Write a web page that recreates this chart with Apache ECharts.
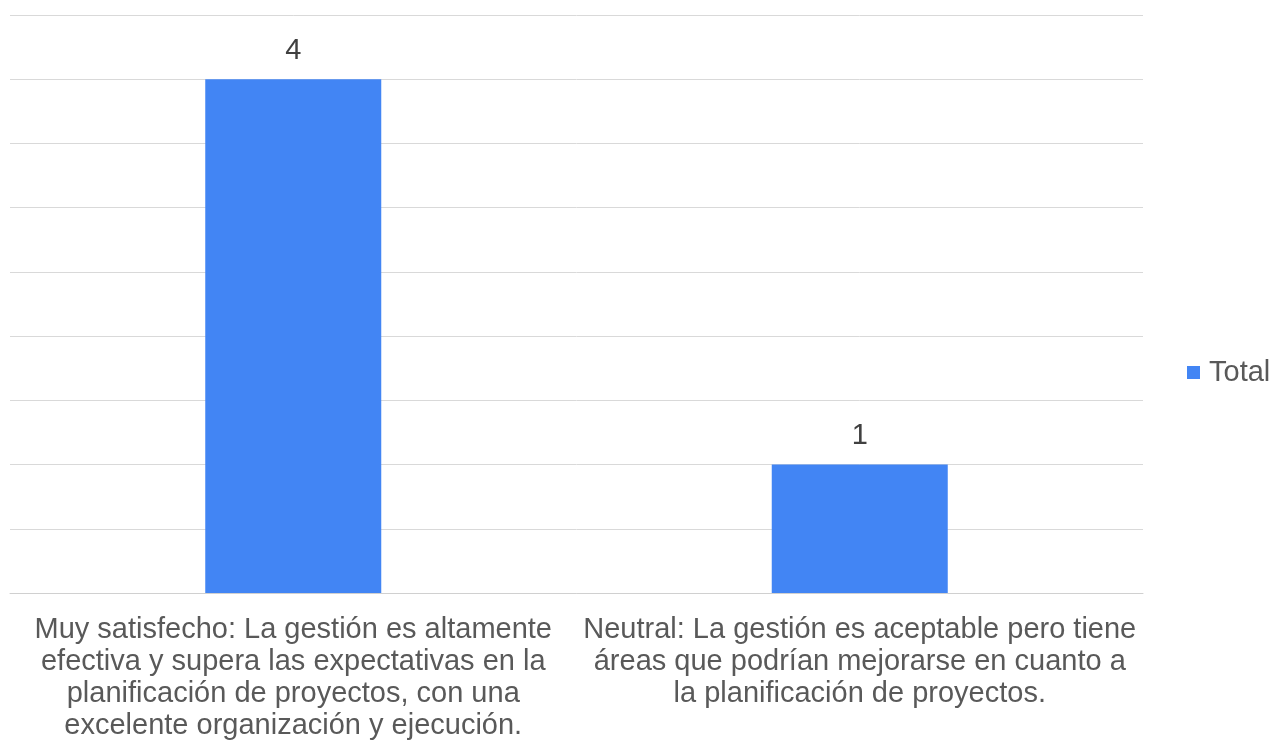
<!DOCTYPE html>
<html>
<head>
<meta charset="utf-8">
<script src="https://cdn.jsdelivr.net/npm/echarts@6/dist/echarts.min.js"></script>
<style>
  html, body { margin: 0; padding: 0; background: #fff; }
  #main { width: 1276px; height: 742px; }
</style>
</head>
<body>
<div id="main"></div>
<script>
// categorias (saltos de linea como en el original)
var categories = [
    'Muy satisfecho: La gestión es altamente\nefectiva y supera las expectativas en la\nplanificación de proyectos, con una\nexcelente organización y ejecución.',
    'Neutral: La gestión es aceptable pero tiene\náreas que podrían mejorarse en cuanto a\nla planificación de proyectos.'
];
var totalValues = [4, 1];
var seriesName = 'Total';

var myChart = echarts.init(document.getElementById('main'));
var font = 'Liberation Sans, Arial, sans-serif';

var option = {
    animation: false,
    legend: {
        show: true,
        orient: 'vertical',
        left: 1182,
        top: 353,
        itemWidth: 13,
        itemHeight: 13,
        icon: 'rect',
        textStyle: {
            fontFamily: font,
            fontSize: 29,
            color: '#595959',
            padding: [0, 0, 0, 4]
        },
        data: [seriesName]
    },
    grid: {
        top: 15,
        bottom: 148,
        left: 10,
        right: 133,
        containLabel: false
    },
    xAxis: {
        type: 'category',
        data: categories,
        axisLine: {
            show: true,
            lineStyle: { color: '#d0d0d0', width: 1 }
        },
        axisTick: { show: false },
        axisLabel: {
            interval: 0,
            margin: 21,
            fontFamily: font,
            fontSize: 29,
            lineHeight: 32,
            color: '#595959'
        }
    },
    yAxis: {
        type: 'value',
        min: 0,
        max: 4.5,
        interval: 0.5,
        axisLine: { show: false },
        axisTick: { show: false },
        axisLabel: { show: false },
        splitLine: {
            show: true,
            lineStyle: { color: '#d9d9d9', width: 1 }
        }
    },
    series: [{
        name: seriesName,
        type: 'bar',
        data: totalValues,
        barWidth: 176,
        itemStyle: { color: '#4285F4' },
        label: {
            show: true,
            position: 'top',
            distance: 14,
            fontFamily: font,
            fontSize: 29,
            color: '#404040'
        }
    }]
};

myChart.setOption(option);
window.onresize = function () {
    myChart.resize();
}
</script>
</body>
</html>
